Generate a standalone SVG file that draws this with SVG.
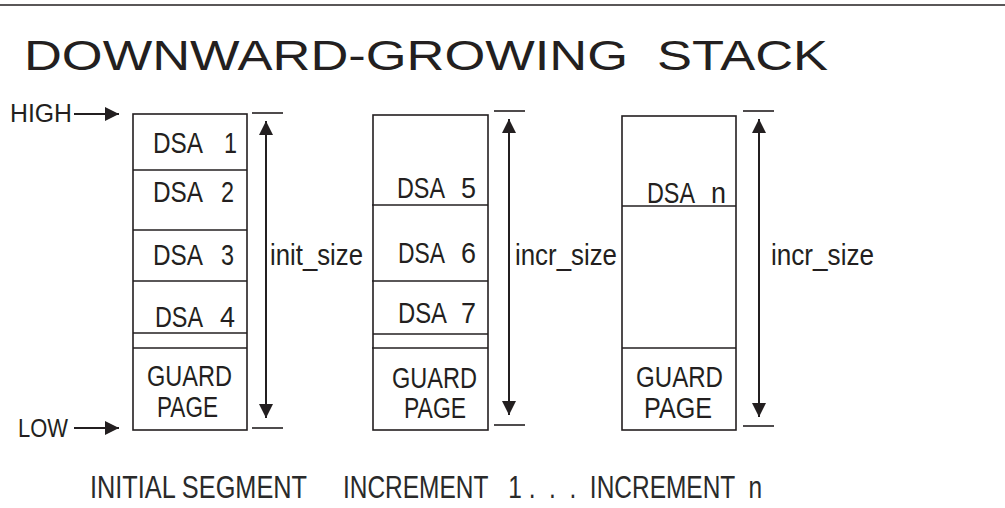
<svg xmlns="http://www.w3.org/2000/svg" width="1005" height="508" viewBox="0 0 1005 508">
<style>
text{font-family:"Liberation Sans",Arial,sans-serif;fill:#231f20}
.t{font-size:30px}
.lab{font-size:29px}
.hl{font-size:25px}
.bot{font-size:32px;fill:#2a2a2a}
.box{fill:#fff;stroke:#231f20;stroke-width:1.6}
.div{stroke:#231f20;stroke-width:1.6}
.ln{stroke:#231f20;stroke-width:2;fill:none}
.tick{stroke:#231f20;stroke-width:1.6}
</style>
<defs>
<marker id="ah" markerUnits="userSpaceOnUse" markerWidth="16" markerHeight="14" refX="14" refY="7" orient="auto">
<path d="M0,0 L14,7 L0,14 Z" fill="#231f20"/>
</marker>
</defs>
<rect width="1005" height="508" fill="#fff"/>
<line x1="0" y1="5" x2="1005" y2="5" stroke="#231f20" stroke-width="1.6"/>
<text x="24" y="70" font-size="42" textLength="804" lengthAdjust="spacingAndGlyphs" xml:space="preserve">DOWNWARD-GROWING  STACK</text>

<g id="high-label">
<text class="hl" x="10" y="122" textLength="62" lengthAdjust="spacingAndGlyphs">HIGH</text>
</g>
<g id="low-label">
<text class="hl" x="18" y="437" textLength="50" lengthAdjust="spacingAndGlyphs">LOW</text>
</g>

<g id="initial-segment">
<rect class="box" x="133" y="114" width="114" height="316"/>
<line class="div" x1="133" y1="170" x2="247" y2="170"/>
<line class="div" x1="133" y1="230" x2="247" y2="230"/>
<line class="div" x1="133" y1="281" x2="247" y2="281"/>
<line class="div" x1="133" y1="333" x2="247" y2="333"/>
<line class="div" x1="133" y1="348" x2="247" y2="348"/>
<text class="t" x="153" y="153" textLength="50" lengthAdjust="spacingAndGlyphs">DSA</text>
<text class="t" x="224" y="153" textLength="13" lengthAdjust="spacingAndGlyphs">1</text>
<text class="t" x="153" y="202" textLength="50" lengthAdjust="spacingAndGlyphs">DSA</text>
<text class="t" x="221" y="202" textLength="13" lengthAdjust="spacingAndGlyphs">2</text>
<text class="t" x="153" y="265" textLength="50" lengthAdjust="spacingAndGlyphs">DSA</text>
<text class="t" x="221" y="265" textLength="13" lengthAdjust="spacingAndGlyphs">3</text>
<text class="t" x="155" y="327" textLength="48" lengthAdjust="spacingAndGlyphs">DSA</text>
<text class="t" x="220" y="327" textLength="15" lengthAdjust="spacingAndGlyphs">4</text>
<text class="t" x="147" y="386" textLength="85" lengthAdjust="spacingAndGlyphs">GUARD</text>
<text class="t" x="157" y="417" textLength="61" lengthAdjust="spacingAndGlyphs">PAGE</text>
</g>

<g id="increment-1">
<rect class="box" x="373" y="115" width="115" height="315"/>
<line class="div" x1="372" y1="205" x2="488" y2="205"/>
<line class="div" x1="372" y1="281" x2="488" y2="281"/>
<line class="div" x1="373" y1="334" x2="488" y2="334"/>
<line class="div" x1="372" y1="348" x2="488" y2="348"/>
<text class="t" x="397" y="198" textLength="48" lengthAdjust="spacingAndGlyphs">DSA</text>
<text class="t" x="461" y="198" textLength="15" lengthAdjust="spacingAndGlyphs">5</text>
<text class="t" x="398" y="263" textLength="47" lengthAdjust="spacingAndGlyphs">DSA</text>
<text class="t" x="461" y="263" textLength="15" lengthAdjust="spacingAndGlyphs">6</text>
<text class="t" x="398" y="323" textLength="49" lengthAdjust="spacingAndGlyphs">DSA</text>
<text class="t" x="461" y="323" textLength="15" lengthAdjust="spacingAndGlyphs">7</text>
<text class="t" x="392" y="388" textLength="85" lengthAdjust="spacingAndGlyphs">GUARD</text>
<text class="t" x="404" y="418" textLength="62" lengthAdjust="spacingAndGlyphs">PAGE</text>
</g>

<g id="increment-n">
<rect class="box" x="622" y="116" width="114" height="314"/>
<line class="div" x1="622" y1="206" x2="736" y2="206"/>
<line class="div" x1="622" y1="348" x2="736" y2="348"/>
<text class="t" x="647" y="203" textLength="48" lengthAdjust="spacingAndGlyphs">DSA</text>
<text class="t" x="711" y="203" textLength="15" lengthAdjust="spacingAndGlyphs">n</text>
<text class="t" x="636" y="387" textLength="87" lengthAdjust="spacingAndGlyphs">GUARD</text>
<text class="t" x="644" y="418" textLength="68" lengthAdjust="spacingAndGlyphs">PAGE</text>
</g>

<g id="size-labels">
<text class="lab" x="270" y="265" textLength="93" lengthAdjust="spacingAndGlyphs">init_size</text>
<text class="lab" x="515" y="265" textLength="102" lengthAdjust="spacingAndGlyphs">incr_size</text>
<text class="lab" x="771" y="265" textLength="103" lengthAdjust="spacingAndGlyphs">incr_size</text>
</g>

<g id="bottom-labels">
<text class="bot" x="90" y="498" textLength="217" lengthAdjust="spacingAndGlyphs">INITIAL SEGMENT</text>
<text class="bot" x="343" y="498" textLength="419" lengthAdjust="spacingAndGlyphs" xml:space="preserve">INCREMENT   1 .  .  .  INCREMENT  n</text>
</g>

<g id="connectors">
<line class="ln" x1="74" y1="114" x2="119" y2="114" marker-end="url(#ah)"/>
<line class="ln" x1="74" y1="428" x2="119" y2="428" marker-end="url(#ah)"/>
<line class="tick" x1="252" y1="113" x2="283" y2="113"/>
<line class="tick" x1="252" y1="428" x2="283" y2="428"/>
<line class="ln" x1="266" y1="260" x2="266" y2="121" marker-end="url(#ah)"/>
<line class="ln" x1="266" y1="260" x2="266" y2="418" marker-end="url(#ah)"/>
<line class="tick" x1="494" y1="111" x2="525" y2="111"/>
<line class="tick" x1="494" y1="425" x2="525" y2="425"/>
<line class="ln" x1="509" y1="260" x2="509" y2="119" marker-end="url(#ah)"/>
<line class="ln" x1="509" y1="260" x2="509" y2="415" marker-end="url(#ah)"/>
<line class="tick" x1="743" y1="111" x2="774" y2="111"/>
<line class="tick" x1="743" y1="426" x2="774" y2="426"/>
<line class="ln" x1="759" y1="260" x2="759" y2="119" marker-end="url(#ah)"/>
<line class="ln" x1="759" y1="260" x2="759" y2="417" marker-end="url(#ah)"/>
</g>
</svg>
